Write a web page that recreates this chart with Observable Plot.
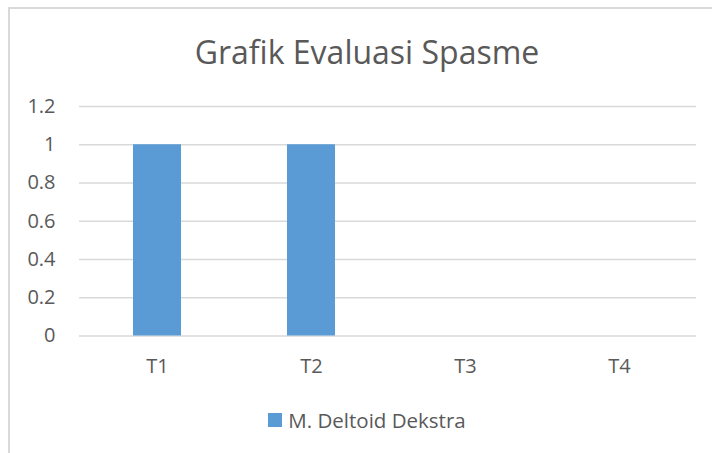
<!DOCTYPE html>
<html>
<head>
<meta charset="utf-8">
<script src="https://cdn.jsdelivr.net/npm/d3@7"></script>
<script src="https://cdn.jsdelivr.net/npm/@observablehq/plot@0.6"></script>
<style>
  html, body { margin: 0; padding: 0; background: #fff; width: 712px; height: 453px; overflow: hidden; }
  body { font-family: "Open Sans", sans-serif; color: #595959; position: relative; }
  #frame { position: absolute; left: 8px; top: 7px; width: 716px; height: 460px; border: 2px solid #D9D9D9; box-sizing: border-box; }
  #title { position: absolute; left: 8px; width: 718px; top: 30px; text-align: center; font-size: 32px; line-height: 44px; color: #595959; }
  #chart { position: absolute; left: 0; top: 80px; }
  #chart svg text { font-size: 20px; font-family: "Open Sans", sans-serif; }
  #legend { position: absolute; top: 406px; left: 0; width: 712px; display: flex; justify-content: center; align-items: center; font-size: 20.5px; line-height: 28px; color: #595959; padding-left: 22px; box-sizing: border-box; }
  #legend .sw { width: 14px; height: 14px; background: #5B9BD5; margin-right: 6px; }
</style>
</head>
<body>
<div id="frame"></div>
<div id="title">Grafik Evaluasi Spasme</div>
<div id="chart"></div>
<div id="legend"><span class="sw"></span><span>M. Deltoid Dekstra</span></div>
<script>
const categories = ["T1", "T2", "T3", "T4"];
const values = [1, 1, 0, 0];
const seriesName = "M. Deltoid Dekstra";
const yTicks = [0, 0.2, 0.4, 0.6, 0.8, 1, 1.2];

const data = categories.map((c, i) => ({cat: c, value: values[i], series: seriesName}));

const chart = Plot.plot({
  width: 712,
  height: 300,
  marginLeft: 79,
  marginRight: 16,
  marginTop: 26,
  marginBottom: 44.5,
  style: {fontFamily: "'Open Sans', sans-serif", fontSize: "20px", color: "#595959", background: "transparent"},
  x: {domain: categories, paddingInner: 0.69, paddingOuter: 0.345, label: null},
  y: {domain: [0, 1.2], label: null},
  marks: [
    Plot.ruleY(yTicks, {stroke: "#D9D9D9", strokeWidth: 1.5}),
    Plot.barY(data, {x: "cat", y: "value", fill: "#5B9BD5"}),
    Plot.axisY(yTicks, {tickSize: 0, tickPadding: 24, fontSize: 20, tickFormat: d => String(+d.toFixed(1)), fill: "#595959", label: null}),
    Plot.axisX({tickSize: 0, tickPadding: 23, fontSize: 20, fill: "#595959", label: null})
  ]
});
document.getElementById("chart").appendChild(chart);
</script>
</body>
</html>
